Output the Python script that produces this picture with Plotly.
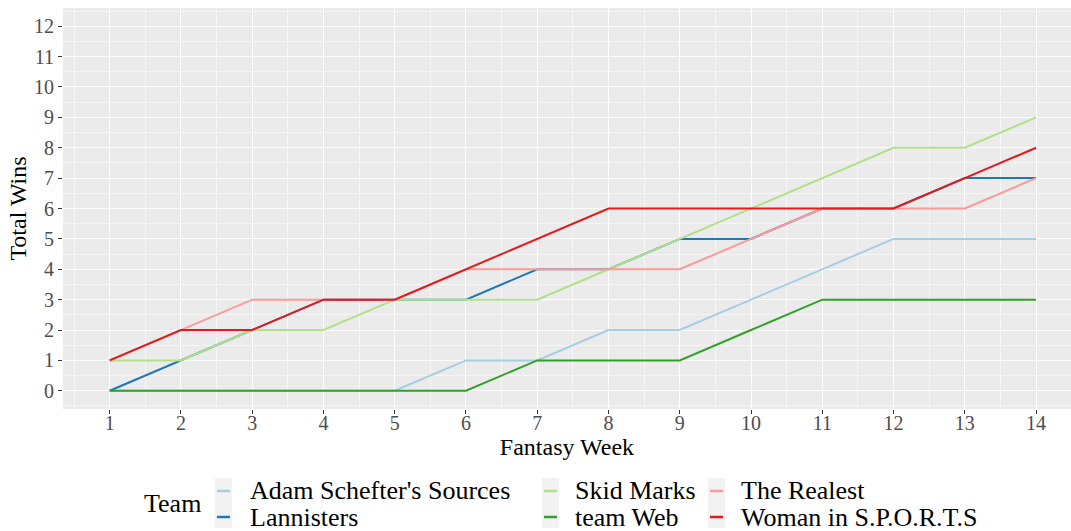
import plotly.graph_objects as go

# fantasy week vs cumulative wins per team
weeks = list(range(1, 15))
teams = ["Adam Schefter's Sources", "Lannisters", "Skid Marks",
         "team Web", "The Realest", "Woman in S.P.O.R.T.S"]
team_colors = ["#A6CEE3", "#1F78B4", "#B2DF8A", "#33A02C", "#FB9A99", "#E31A1C"]

adam_wins = [0, 0, 0, 0, 0, 1, 1, 2, 2, 3, 4, 5, 5, 5]
lannisters_wins = [0, 1, 2, 3, 3, 3, 4, 4, 5, 5, 6, 6, 7, 7]
skid_wins = [1, 1, 2, 2, 3, 3, 3, 4, 5, 6, 7, 8, 8, 9]
web_wins = [0, 0, 0, 0, 0, 0, 1, 1, 1, 2, 3, 3, 3, 3]
realest_wins = [1, 2, 3, 3, 3, 4, 4, 4, 4, 5, 6, 6, 6, 7]
woman_wins = [1, 2, 2, 3, 3, 4, 5, 6, 6, 6, 6, 6, 7, 8]
all_wins = [adam_wins, lannisters_wins, skid_wins, web_wins, realest_wins, woman_wins]

W, H = 1071, 531
ML, MR, MT, MB = 63, 0, 8, 122
PW, PH = W - ML - MR, H - MT - MB
FONT = "Liberation Serif, Times New Roman, serif"


def px_x(x):
    return (x - ML) / PW


def px_y(y):
    return (H - MB - y) / PH


fig = go.Figure()
for name, wins, color in zip(teams, all_wins, team_colors):
    fig.add_trace(go.Scatter(x=weeks, y=wins, name=name, mode="lines",
                             line=dict(color=color, width=2),
                             showlegend=False))

# hand-built legend, ggplot style: 3 columns x 2 rows, keys stacked
key_cols = [(215, 248), (542, 573), (708, 739)]
row_y = [491, 517]
shapes = []
annotations = [dict(text="Team", x=px_x(142), y=px_y(503), xref="paper", yref="paper",
                    xanchor="left", yanchor="middle", showarrow=False,
                    font=dict(size=26, color="black", family=FONT))]
for i, (name, color) in enumerate(zip(teams, team_colors)):
    col, row = divmod(i, 2)
    bx, tx = key_cols[col]
    if row == 0:
        shapes.append(dict(type="rect", xref="paper", yref="paper",
                           x0=px_x(bx), x1=px_x(bx + 17), y0=px_y(478), y1=px_y(528),
                           fillcolor="#F2F2F2", line_width=0, layer="below"))
    shapes.append(dict(type="line", xref="paper", yref="paper",
                       x0=px_x(bx + 2), x1=px_x(bx + 15), y0=px_y(row_y[row]), y1=px_y(row_y[row]),
                       line=dict(color=color, width=2.5)))
    annotations.append(dict(text=name, x=px_x(tx), y=px_y(row_y[row]), xref="paper", yref="paper",
                            xanchor="left", yanchor="middle", showarrow=False,
                            font=dict(size=26, color="black", family=FONT)))

axis_common = dict(
    showline=False, zeroline=False, automargin=False,
    gridcolor="white", gridwidth=1.4,
    ticks="outside", ticklen=4, tickwidth=1, tickcolor="#333333",
    tickfont=dict(size=20, color="#4D4D4D", family=FONT),
)

fig.update_layout(
    width=W, height=H,
    margin=dict(l=ML, r=MR, t=MT, b=MB),
    paper_bgcolor="white", plot_bgcolor="#EBEBEB",
    font=dict(family=FONT, color="black"),
    shapes=shapes, annotations=annotations,
    xaxis=dict(axis_common, range=[0.345, 14.49], tickmode="array", tickvals=weeks,
               ticklabelstandoff=-8,
               minor=dict(tickvals=[w + 0.5 for w in range(0, 15)], showgrid=True,
                          gridcolor="#F6F6F6", gridwidth=0.7, ticks=""),
               title=dict(text="Fantasy Week", font=dict(size=24, color="black"), standoff=0)),
    yaxis=dict(axis_common, range=[-0.6, 12.6], tickmode="array", tickvals=list(range(0, 13)),
               minor=dict(tickvals=[v + 0.5 for v in range(-1, 13)], showgrid=True,
                          gridcolor="#F6F6F6", gridwidth=0.7, ticks=""),
               title=dict(text="Total Wins", font=dict(size=24, color="black"), standoff=0)),
)

fig.write_html("out.html", config={"displayModeBar": False},
               post_script="document.body.style.margin='0';")
